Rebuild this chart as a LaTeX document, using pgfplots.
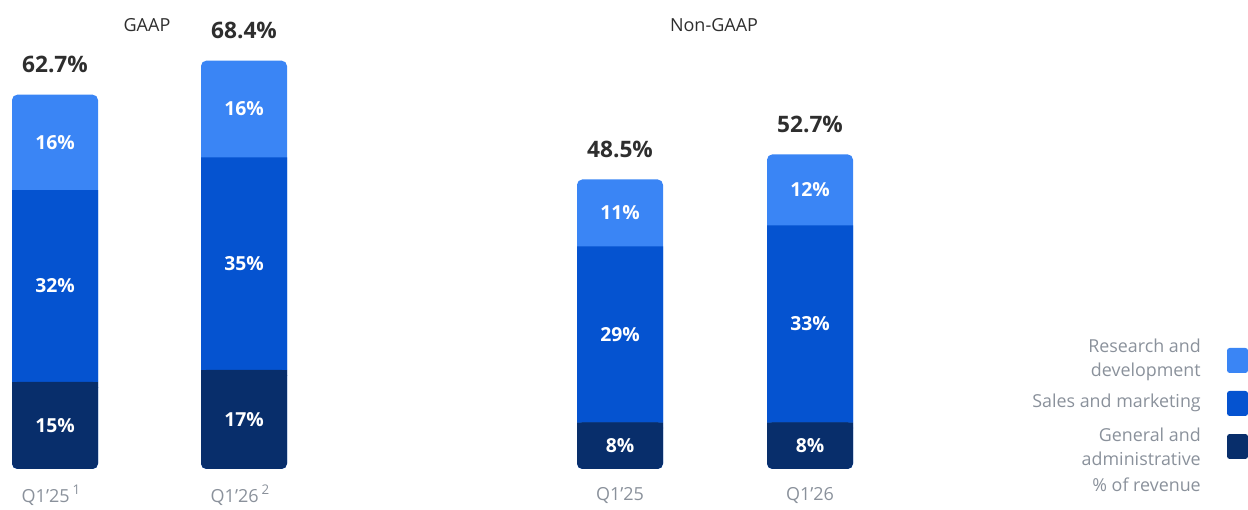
\documentclass[border=0pt]{standalone}
\usepackage{pgfplots}
\pgfplotsset{compat=1.18}
\usepackage{pgfplotstable}
\usepackage{fontspec}
\setmainfont{Open Sans}
\definecolor{rd}{HTML}{3A85F5}
\definecolor{sm}{HTML}{0553D0}
\definecolor{ga}{HTML}{082E6B}
\definecolor{dark}{HTML}{2E2E2E}
\definecolor{lgray}{HTML}{8A919B}

\pgfplotstableread{
x   ga   sm   rd   lga lsm lrd total
55  14.6 32.1 16.0 15  32  16  62.7
244 16.6 35.6 16.2 17  35  16  68.4
620 7.8  29.5 11.2 8   29  11  48.5
810 7.8  33.0 11.9 8   33  12  52.7
}\data

\newcommand{\fnsup}[1]{\raisebox{0.45em}{\fontsize{10}{10}\selectfont #1}}

\begin{document}
\begin{tikzpicture}
\begin{axis}[
  width=936pt, height=379.5pt, scale only axis,
  xmin=0, xmax=1248, ymin=-6.198, ymax=78.56,
  hide axis, clip=false,
  /pgf/number format/assume math mode=true,
  bars/.style={ybar, bar width=64.5pt, bar shift=0pt, draw=none, rounded corners=4pt},
  sbars/.style={ybar, stack plots=y, bar width=64.5pt, bar shift=0pt, draw=none},
  inlbl/.style={only marks, mark=none, nodes near coords={\pgfmathprintnumber{\pgfplotspointmeta}\%},
    every node near coord/.append style={anchor=center, text=white, font=\fontsize{14.5}{16}\selectfont\bfseries}},
]
\path (rel axis cs:0,0) rectangle (rel axis cs:1,1);
% full bar (top segment colour, rounded)
\addplot[bars, fill=rd,
  nodes near coords={\pgfmathprintnumber[fixed,precision=1,zerofill]{\pgfplotspointmeta}\%},
  point meta=\thisrow{total},
  every node near coord/.append style={font=\bfseries\fontsize{17}{19}\selectfont, text=dark, anchor=center, yshift=22.5pt}]
  table[x=x, y expr=\thisrow{ga}+\thisrow{sm}+\thisrow{rd}] {\data};
% stacked sharp pieces for the inner boundaries
\addplot[sbars, fill=none] table[x=x, y expr=\thisrow{ga}-1] {\data};
\addplot[sbars, fill=ga] table[x=x, y expr=1] {\data};
\addplot[sbars, fill=sm] table[x=x, y=sm] {\data};
% bottom segment, rounded at the base
\addplot[bars, fill=ga] table[x=x, y=ga] {\data};
% segment labels
\addplot[inlbl, point meta=\thisrow{lga}] table[x=x, y expr=\thisrow{ga}/2] {\data};
\addplot[inlbl, point meta=\thisrow{lsm}] table[x=x, y expr=\thisrow{ga}+\thisrow{sm}/2] {\data};
\addplot[inlbl, point meta=\thisrow{lrd}] table[x=x, y expr=\thisrow{ga}+\thisrow{sm}+\thisrow{rd}/2] {\data};

% titles
\node[text=dark, font=\fontsize{13.5}{15}\selectfont] at (axis cs:147,74.37) {GAAP};
\node[text=dark, font=\fontsize{13.5}{15}\selectfont] at (axis cs:714,74.37) {Non-GAAP};
% category labels
\begin{scope}[every node/.style={text=lgray, font=\fontsize{13.5}{15}\selectfont}]
\node at (axis cs:51,-4.36) {Q1’25\,\fnsup{1}};
\node at (axis cs:240,-4.36) {Q1’26\,\fnsup{2}};
\node at (axis cs:620,-4.36) {Q1’25};
\node at (axis cs:810,-4.36) {Q1’26};
\end{scope}
% legend
\begin{scope}[every node/.style={text=lgray, font=\fontsize{13.4}{18}\selectfont, anchor=east, align=right, inner sep=0pt}]
\node at (axis cs:1201,18.26) {Research and\\development};
\node at (axis cs:1201,11.06) {Sales and marketing};
\node at (axis cs:1201,3.77) {General and\\administrative};
\node at (axis cs:1201,-2.68) {\% of revenue};
\end{scope}
\fill[rd, rounded corners=2pt] (axis cs:1227,20.27) rectangle (axis cs:1248,16.08);
\fill[sm, rounded corners=2pt] (axis cs:1227,13.07) rectangle (axis cs:1248,8.88);
\fill[ga, rounded corners=2pt] (axis cs:1227,5.86) rectangle (axis cs:1248,1.68);
\end{axis}
\end{tikzpicture}
\end{document}
